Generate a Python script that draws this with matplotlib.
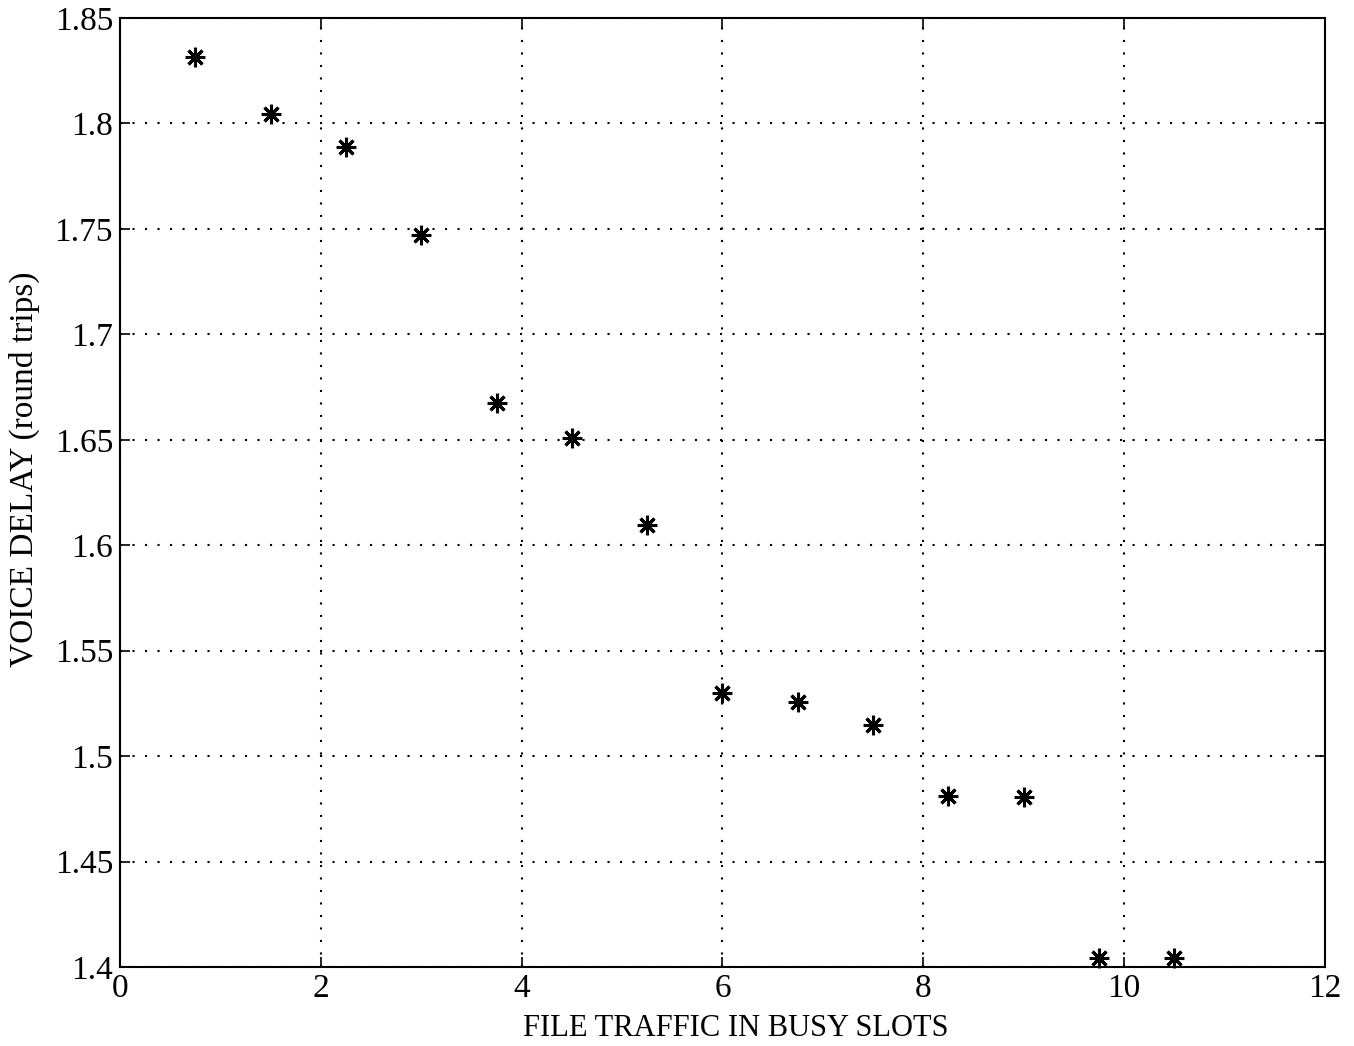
import matplotlib
matplotlib.use('Agg')
import matplotlib.pyplot as plt

# data
file_traffic = [0.75, 1.5, 2.25, 3.0, 3.75, 4.5, 5.25, 6.0, 6.75, 7.5, 8.25, 9.0, 9.75, 10.5]
voice_delay = [1.8315, 1.8045, 1.789, 1.747, 1.6675, 1.651, 1.6096,
               1.530, 1.5257, 1.5148, 1.481, 1.4806, 1.4043, 1.4043]

x_ticks = [0, 2, 4, 6, 8, 10, 12]
y_ticks = [1.4, 1.45, 1.5, 1.55, 1.6, 1.65, 1.7, 1.75, 1.8, 1.85]
y_tick_labels = ['1.4', '1.45', '1.5', '1.55', '1.6', '1.65', '1.7', '1.75', '1.8', '1.85']

plt.rcParams['font.family'] = ['Liberation Serif', 'DejaVu Serif']

fig = plt.figure(figsize=(13.54, 10.46), dpi=100)
ax = fig.add_axes([0.0886, 0.0755, 0.89, 0.9073])

ax.plot(file_traffic, voice_delay, linestyle='none', marker=(8, 2, 0),
        markersize=14, markeredgewidth=2.2, color='black', clip_on=False)

ax.set_xlim(0, 12)
ax.set_ylim(1.4, 1.85)
ax.set_xticks(x_ticks)
ax.set_yticks(y_ticks)
ax.set_xticklabels([str(t) for t in x_ticks])
ax.set_yticklabels(y_tick_labels)
ax.tick_params(direction='in', length=7, width=1.2, labelsize=24, pad=5,
               top=True, right=True)
ax.grid(True, linestyle=(0, (1, 5)), color='black', linewidth=1.5)
for s in ax.spines.values():
    s.set_linewidth(1.5)

ax.set_xlabel('FILE TRAFFIC IN BUSY SLOTS', fontsize=22)
ax.xaxis.set_label_coords(0.511, -0.05)
ax.set_ylabel('VOICE DELAY (round trips)', fontsize=24)
ax.yaxis.set_label_coords(-0.066, 0.524)

fig.savefig('out.png', dpi=100)
